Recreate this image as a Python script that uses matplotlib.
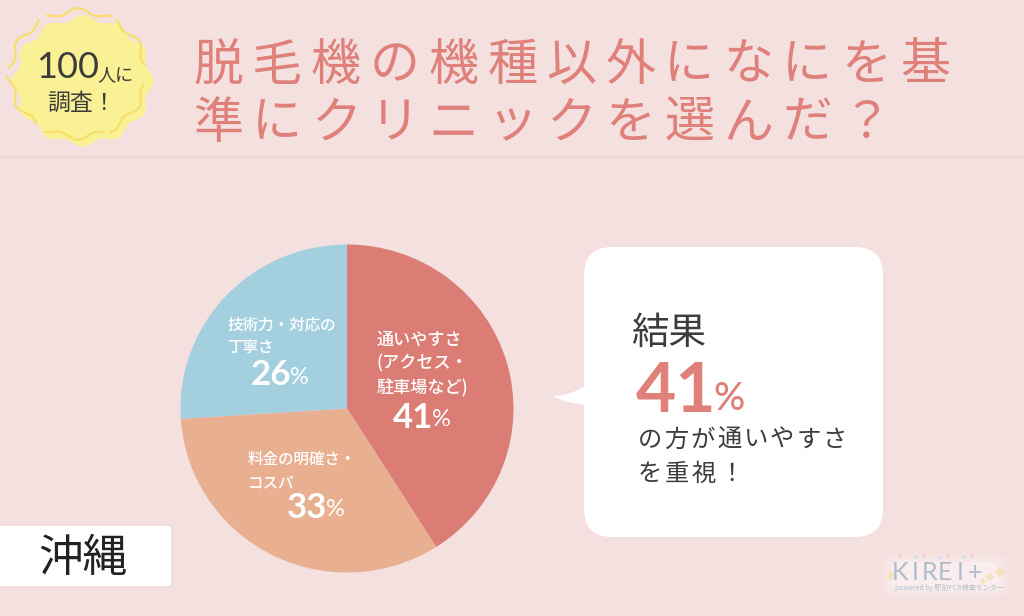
import numpy as np
import matplotlib
matplotlib.use('Agg')
import matplotlib.pyplot as plt
from matplotlib.patches import FancyBboxPatch, Polygon, PathPatch
from matplotlib.path import Path

plt.rcParams['font.family'] = ['Noto Sans CJK JP', 'DejaVu Sans']

# Chart data
labels = ['通いやすさ\n(アクセス・\n駐車場など)', '料金の明確さ・\nコスパ', '技術力・対応の\n丁寧さ']
values = [41, 33, 26]
colors = ['#DB7C75', '#E9AF91', '#A3CFDF']
title_lines = ['脱毛機の機種以外になにを基', '準にクリニックを選んだ？']
region = '沖縄'

BG = '#F5E0E0'
DARK = '#3C3C3C'
ROSE = '#DF807A'
LATO = ['Lato', 'DejaVu Sans']


def spaced_text(ax, x, y, s, step, **kw):
    # letter-spaced text, one character at a time
    for i, ch in enumerate(s):
        ax.text(x + i * step, y, ch, ha='center', va='center', **kw)


def wavy_badge(cx, cy, rx, ry, phase=0.0, n=12, amp=0.045):
    t = np.linspace(0, 2 * np.pi, 361)
    r = 1 + amp * np.cos(n * t + phase)
    return cx + rx * r * np.cos(t), cy + ry * r * np.sin(t)


fig = plt.figure(figsize=(10.24, 6.16), dpi=100, facecolor=BG)
ax = fig.add_axes([0, 0, 1, 1])
ax.set_xlim(0, 1024)
ax.set_ylim(616, 0)
ax.axis('off')

# header
ax.plot([0, 1024], [156.5, 156.5], color='#EDD6D6', lw=1.5)
spaced_text(ax, 218, 65.5, title_lines[0], 58.9, fontsize=36, color=ROSE)
spaced_text(ax, 218, 123.5, title_lines[1], 58.9, fontsize=36, color=ROSE)

# badge
bx, by = wavy_badge(83, 81, 68, 63)
ax.add_patch(Polygon(np.column_stack([bx, by]), closed=True, fc='#F9F194', ec='none'))
ox, oy = wavy_badge(78, 74, 68, 63)
for a, b in [(10, 62), (68, 118), (128, 178), (186, 236), (244, 298), (304, 352)]:
    seg = (np.arange(361) >= a) & (np.arange(361) <= b)
    ax.plot(ox[seg], oy[seg], color='#F8DF6A', lw=1.6)
ax.text(36, 67, '100', fontsize=26, color=DARK, family=LATO, ha='left', va='center')
ax.text(97, 75, '人に', fontsize=13, color=DARK, ha='left', va='center')
ax.text(81, 103, '調査！', fontsize=16.5, color=DARK, ha='center', va='center')

# pie
cx, cy, rx, ry = 347, 408.5, 166.5, 164
pie_ax = fig.add_axes([(cx - rx) / 1024, 1 - (cy + ry) / 616, 2 * rx / 1024, 2 * ry / 616])
pie_ax.pie(values, colors=colors, startangle=90, counterclock=False, radius=1,
           wedgeprops={'linewidth': 0})
pie_ax.set_aspect('auto')
pie_ax.set_xlim(-1, 1)
pie_ax.set_ylim(-1, 1)

over = fig.add_axes([0, 0, 1, 1], facecolor='none')
over.set_xlim(0, 1024)
over.set_ylim(616, 0)
over.axis('off')

label_pos = [(377, 339.5, 24.2, 12.3), (248, 459.5, 23, 11.2), (227, 325.5, 21.5, 11.2)]
num_pos = [(393, 418), (287, 508), (251, 375)]
for i in range(3):
    lx, ly, lh, fs = label_pos[i]
    for j, line in enumerate(labels[i].split('\n')):
        over.text(lx, ly + j * lh, line, fontsize=fs, fontweight='medium', color='white',
                  ha='left', va='center')
    nx, ny = num_pos[i]
    num = over.text(nx, ny, str(values[i]), fontsize=25, color='white', fontweight='bold',
                    family=LATO, ha='left', va='center')
    fig.canvas.draw()
    ext = num.get_window_extent()
    over.text(ext.x1 - 1, ny + 2, '%', fontsize=17, color='white', family=LATO,
              ha='left', va='center')

# speech bubble
over.add_patch(FancyBboxPatch((604, 267), 259, 250, boxstyle='round,pad=20,rounding_size=28',
                              fc='white', ec='none'))
tail = Path([(586, 385), (572, 396), (553, 396), (553, 396), (566, 404), (586, 405), (586, 405), (586, 385)],
            [Path.MOVETO, Path.CURVE4, Path.CURVE4, Path.LINETO, Path.CURVE4, Path.CURVE4, Path.LINETO, Path.CLOSEPOLY])
over.add_patch(PathPatch(tail, fc='white', ec='none'))
over.text(631, 333, '結果', fontsize=27, color=DARK, ha='left', va='center')
big = over.text(636, 392, str(values[0]), fontsize=50, color=ROSE, fontweight='bold',
                family=LATO, ha='left', va='center')
fig.canvas.draw()
over.text(big.get_window_extent().x1 - 3, 399, '%', fontsize=28, color=ROSE, fontweight='medium',
          family=LATO, ha='left', va='center')
spaced_text(over, 650, 440, 'の方が通いやすさ', 26.4, fontsize=17.5, color=DARK)
spaced_text(over, 650, 474, 'を重視！', 27, fontsize=17.5, color=DARK)

# region tag
over.add_patch(FancyBboxPatch((-10, 525), 182, 62, boxstyle='round,pad=0,rounding_size=5',
                              fc='white', ec='#E9DADA', lw=1))
over.text(83, 558, region, fontsize=32, color='#222222', ha='center', va='center')

# logo
for pad, alpha in [(10, 0.1), (6, 0.18), (2, 0.25)]:
    over.add_patch(FancyBboxPatch((892 - pad, 564 - pad), 106 + 2 * pad, 24 + 2 * pad,
                                  boxstyle='round,pad=0,rounding_size=12',
                                  fc='white', ec='none', alpha=alpha))
spaced_text(over, 900, 572, 'KIREI+', 15, fontsize=18, color='#AEBDCB', family=LATO)
over.text(895, 588, 'powered by 駅前PCR検査センター', fontsize=5.0, color='#B4C0CC',
          ha='left', va='center')
over.scatter([891, 1000, 990, 983], [576, 572, 577, 581], marker=(4, 1, 0),
             s=[70, 90, 50, 35], color='#F5E3BE', linewidths=0)
over.scatter([900, 908, 916, 924, 932, 940, 948, 956, 964, 972, 980],
             [556, 554, 557, 556, 554, 558, 556, 555, 557, 556, 555],
             marker=(4, 1, 0), s=10,
             color=['#EFC9CF', '#F5E3BE', '#C9DCE6'] * 3 + ['#EFC9CF', '#F5E3BE'], linewidths=0)

fig.savefig('out.png', dpi=100, facecolor=BG)
